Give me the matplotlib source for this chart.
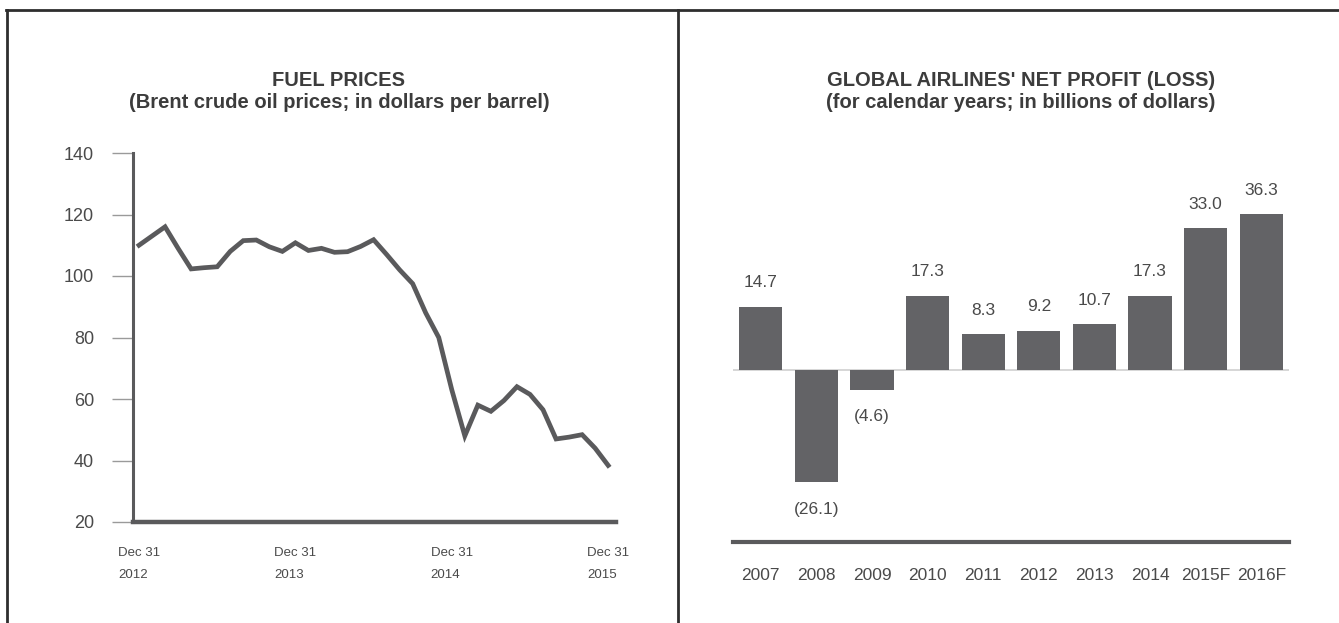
import matplotlib
matplotlib.use("Agg")
import matplotlib.pyplot as plt
from matplotlib.lines import Line2D

plt.rcParams["font.family"] = ["Liberation Sans", "DejaVu Sans"]

# Brent crude, monthly, Dec 2012 .. Dec 2015 (dollars per barrel)
brent_prices = [110, 113, 116, 109, 102.3, 102.7, 103, 108, 111.5, 111.7, 109.5, 108,
                110.8, 108.3, 109, 107.7, 107.9, 109.6, 111.8, 107, 102, 97.5, 88, 80,
                63, 48, 58, 56, 59.5, 64, 61.5, 56.5, 47, 47.6, 48.4, 44, 38.4]
brent_tick_months = [0, 12, 24, 36]
brent_tick_labels = ["Dec 31\n2012", "Dec 31\n2013", "Dec 31\n2014", "Dec 31\n2015"]
brent_yticks = [20, 40, 60, 80, 100, 120, 140]

# Global airline net profit (loss), billions of dollars
profit_years = ["2007", "2008", "2009", "2010", "2011", "2012", "2013", "2014", "2015F", "2016F"]
profit_values = [14.7, -26.1, -4.6, 17.3, 8.3, 9.2, 10.7, 17.3, 33.0, 36.3]

W, H = 1339, 623
fig = plt.figure(figsize=(W / 100, H / 100), dpi=100)
fig.patch.set_facecolor("white")

TEXT = "#4a4a4a"
TITLE = "#3c3c3c"
DARK = "#5a5a5c"
BAR = "#636366"


def fx(px):
    return px / W


def fy(py):
    return 1 - py / H


# panel frame
for (x0, y0, x1, y1) in [(6, 10, W, 10), (7, 10, 7, H), (678, 10, 678, H)]:
    fig.add_artist(Line2D([fx(x0), fx(x1)], [fy(y0), fy(y1)], color="#2e2e2e",
                          lw=2.0, transform=fig.transFigure))

# ---- left panel: fuel prices ----
axL = fig.add_axes([fx(133), fy(522), fx(616) - fx(133), fy(153) - fy(522)])
axL.plot(range(len(brent_prices)), brent_prices, color=DARK, lw=3.4,
         solid_joinstyle="miter")
axL.set_xlim(-0.46, 36.6)
axL.set_ylim(20, 140)
axL.set_yticks(brent_yticks)
axL.set_yticklabels([str(v) for v in brent_yticks], fontsize=13, color=TEXT)
axL.tick_params(axis="y", length=15, width=1.0, color="#9a9a9a", pad=13)
axL.set_xticks(brent_tick_months)
axL.set_xticklabels(brent_tick_labels, fontsize=9.5, color=TEXT, linespacing=2.1,
                    multialignment="left")
axL.tick_params(axis="x", length=0, pad=18)
for s in ["top", "right"]:
    axL.spines[s].set_visible(False)
axL.spines["left"].set_color(DARK)
axL.spines["left"].set_linewidth(2.2)
axL.spines["bottom"].set_color(DARK)
axL.spines["bottom"].set_linewidth(3.2)

fig.text(fx(339), fy(80), "FUEL PRICES", ha="center", va="center",
         fontsize=14.5, fontweight="bold", color=TITLE)
fig.text(fx(339), fy(103), "(Brent crude oil prices; in dollars per barrel)",
         ha="center", va="center", fontsize=14.5, fontweight="bold", color=TITLE)

# ---- right panel: net profit ----
axR = fig.add_axes([fx(733), fy(542), fx(1289) - fx(733), fy(181) - fy(542)])
xs = range(len(profit_values))
axR.bar(xs, profit_values, width=0.78, color=BAR)
axR.axhline(0, color="#d0d0d0", lw=1.2, zorder=0)
axR.set_xlim(-0.5, len(profit_values) - 0.5)
axR.set_ylim(-40, 44)
for x, v in zip(xs, profit_values):
    if v >= 0:
        axR.annotate(f"{v:.1f}", (x, v), xytext=(0, 24), textcoords="offset pixels",
                     ha="center", va="center", fontsize=12.5, color=TEXT)
    else:
        axR.annotate(f"({abs(v):.1f})", (x, v), xytext=(0, -27),
                     textcoords="offset pixels", ha="center", va="center",
                     fontsize=12.5, color=TEXT)
axR.set_xticks(list(xs))
axR.set_xticklabels(profit_years, fontsize=12.5, color=TEXT)
axR.tick_params(axis="x", length=0, pad=19)
axR.set_yticks([])
for s in ["top", "right", "left"]:
    axR.spines[s].set_visible(False)
axR.spines["bottom"].set_color(DARK)
axR.spines["bottom"].set_linewidth(3.0)

fig.text(fx(1021), fy(80), "GLOBAL AIRLINES' NET PROFIT (LOSS)", ha="center",
         va="center", fontsize=14.5, fontweight="bold", color=TITLE)
fig.text(fx(1021), fy(103), "(for calendar years; in billions of dollars)",
         ha="center", va="center", fontsize=14.5, fontweight="bold", color=TITLE)

fig.savefig("out.png", dpi=100, facecolor="white")
